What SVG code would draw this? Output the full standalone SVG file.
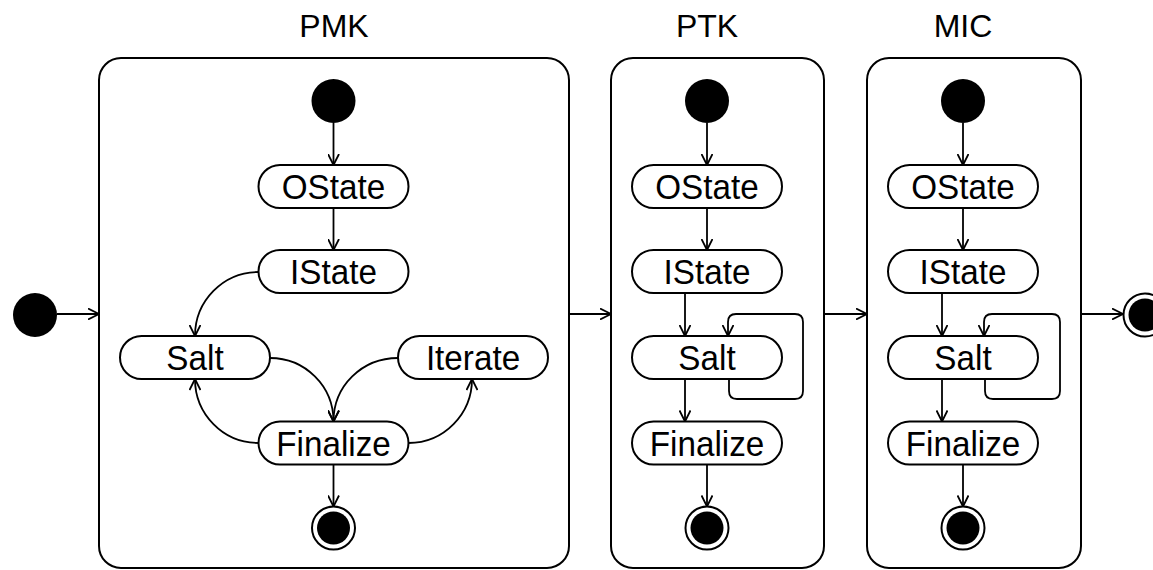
<svg xmlns="http://www.w3.org/2000/svg" width="1153" height="570" viewBox="0 0 1153 570">
  <defs>
    <style>
      .box { fill: #fff; stroke: #000; stroke-width: 2; }
      .pill { fill: #fff; stroke: #000; stroke-width: 2; }
      .lbl { font-family: "Liberation Sans", Arial, sans-serif; font-size: 35px; fill: #000; text-anchor: middle; }
      .title { font-family: "Liberation Sans", Arial, sans-serif; font-size: 32px; fill: #000; text-anchor: middle; }
      .edge { fill: none; stroke: #000; stroke-width: 1.8; marker-end: url(#arrow); }
      .init { fill: #000; }
      .fin-ring { fill: #fff; stroke: #000; stroke-width: 2; }
    </style>
    <marker id="arrow" viewBox="0 0 12 12" refX="11.5" refY="6" markerWidth="12" markerHeight="12" markerUnits="userSpaceOnUse" orient="auto">
      <path d="M0.5,0.5 L11.5,6 L0.5,11.5" fill="none" stroke="#000" stroke-width="1.8"/>
    </marker>
  </defs>

  <rect width="1153" height="570" fill="#fff"/>

  <!-- composite states -->
  <g id="pmk">
    <rect class="box" x="99" y="58" width="470" height="510" rx="22"/>
    <text class="title" x="334" y="37">PMK</text>
  </g>
  <g id="ptk">
    <rect class="box" x="611" y="58" width="213" height="510" rx="22"/>
    <text class="title" x="707" y="37">PTK</text>
  </g>
  <g id="mic">
    <rect class="box" x="867" y="58" width="214" height="510" rx="22"/>
    <text class="title" x="963" y="37">MIC</text>
  </g>

  <!-- outer start / end -->
  <g id="start"><circle class="init" cx="35" cy="315" r="22"/></g>
  <g id="end">
    <circle class="fin-ring" cx="1145" cy="315" r="21.5"/>
    <circle class="init" cx="1145" cy="315" r="16.5"/>
  </g>

  <!-- PMK contents (labels slightly condensed) -->
  <g id="pmk-init"><circle class="init" cx="333.5" cy="101" r="22"/></g>
  <g id="pmk-ostate">
    <rect class="pill" x="258.5" y="165" width="150" height="43" rx="21.5"/>
    <text class="lbl" transform="translate(333.5 199) scale(0.95 1)">OState</text>
  </g>
  <g id="pmk-istate">
    <rect class="pill" x="258.5" y="250" width="150" height="43" rx="21.5"/>
    <text class="lbl" transform="translate(333.5 284) scale(0.95 1)">IState</text>
  </g>
  <g id="pmk-salt">
    <rect class="pill" x="120" y="336" width="150" height="43" rx="21.5"/>
    <text class="lbl" transform="translate(195 370) scale(0.95 1)">Salt</text>
  </g>
  <g id="pmk-iterate">
    <rect class="pill" x="398" y="336" width="150" height="43" rx="21.5"/>
    <text class="lbl" transform="translate(473 370) scale(0.95 1)">Iterate</text>
  </g>
  <g id="pmk-finalize">
    <rect class="pill" x="258.5" y="421.5" width="150" height="43" rx="21.5"/>
    <text class="lbl" transform="translate(333.5 455.5) scale(0.95 1)">Finalize</text>
  </g>
  <g id="pmk-final">
    <circle class="fin-ring" cx="333.5" cy="528" r="21.5"/>
    <circle class="init" cx="333.5" cy="528" r="16.5"/>
  </g>

  <!-- PTK contents -->
  <g id="ptk-init"><circle class="init" cx="707" cy="101" r="22"/></g>
  <g id="ptk-ostate">
    <rect class="pill" x="632" y="165" width="150" height="43" rx="21.5"/>
    <text class="lbl" transform="translate(707 199) scale(0.95 1)">OState</text>
  </g>
  <g id="ptk-istate">
    <rect class="pill" x="632" y="250" width="150" height="43" rx="21.5"/>
    <text class="lbl" transform="translate(707 284) scale(0.95 1)">IState</text>
  </g>
  <g id="ptk-salt">
    <rect class="pill" x="632" y="336" width="150" height="43" rx="21.5"/>
    <text class="lbl" transform="translate(707 370) scale(0.95 1)">Salt</text>
  </g>
  <g id="ptk-finalize">
    <rect class="pill" x="632" y="421.5" width="150" height="43" rx="21.5"/>
    <text class="lbl" transform="translate(707 455.5) scale(0.95 1)">Finalize</text>
  </g>
  <g id="ptk-final">
    <circle class="fin-ring" cx="707" cy="528" r="21.5"/>
    <circle class="init" cx="707" cy="528" r="16.5"/>
  </g>

  <!-- MIC contents -->
  <g id="mic-init"><circle class="init" cx="963" cy="101" r="22"/></g>
  <g id="mic-ostate">
    <rect class="pill" x="888" y="165" width="150" height="43" rx="21.5"/>
    <text class="lbl" transform="translate(963 199) scale(0.95 1)">OState</text>
  </g>
  <g id="mic-istate">
    <rect class="pill" x="888" y="250" width="150" height="43" rx="21.5"/>
    <text class="lbl" transform="translate(963 284) scale(0.95 1)">IState</text>
  </g>
  <g id="mic-salt">
    <rect class="pill" x="888" y="336" width="150" height="43" rx="21.5"/>
    <text class="lbl" transform="translate(963 370) scale(0.95 1)">Salt</text>
  </g>
  <g id="mic-finalize">
    <rect class="pill" x="888" y="421.5" width="150" height="43" rx="21.5"/>
    <text class="lbl" transform="translate(963 455.5) scale(0.95 1)">Finalize</text>
  </g>
  <g id="mic-final">
    <circle class="fin-ring" cx="963" cy="528" r="21.5"/>
    <circle class="init" cx="963" cy="528" r="16.5"/>
  </g>

  <!-- transitions -->
  <g id="connectors">
    <!-- top level chain -->
    <path class="edge" d="M57,314 H99"/>
    <path class="edge" d="M569,314 H611"/>
    <path class="edge" d="M824,314 H867"/>
    <path class="edge" d="M1081,314 H1123"/>

    <!-- PMK -->
    <path class="edge" d="M333.5,123 V165"/>
    <path class="edge" d="M333.5,208 V250"/>
    <path class="edge" d="M258.5,272 C223,272 195,301 195,336"/>
    <path class="edge" d="M270,358 C305,358 333.5,386 333.5,421.5"/>
    <path class="edge" d="M398,358 C362,358 333.5,386 333.5,421.5"/>
    <path class="edge" d="M258.5,443 C223,443 195,414 195,379"/>
    <path class="edge" d="M408.5,443 C444,443 472,414 472,379"/>
    <path class="edge" d="M333.5,464.5 V506.5"/>

    <!-- PTK -->
    <path class="edge" d="M707,123 V165"/>
    <path class="edge" d="M707,208 V250"/>
    <path class="edge" d="M685,293 V336"/>
    <path class="edge" d="M729,379 V391 Q729,399 737,399 H795 Q803,399 803,391 V322 Q803,314 795,314 H736 Q728,314 728,322 V336"/>
    <path class="edge" d="M685,379 V421.5"/>
    <path class="edge" d="M707,464.5 V506.5"/>

    <!-- MIC -->
    <path class="edge" d="M963,123 V165"/>
    <path class="edge" d="M963,208 V250"/>
    <path class="edge" d="M942,293 V336"/>
    <path class="edge" d="M985,379 V391 Q985,399 993,399 H1052 Q1060,399 1060,391 V322 Q1060,314 1052,314 H992 Q984,314 984,322 V336"/>
    <path class="edge" d="M942,379 V421.5"/>
    <path class="edge" d="M963,464.5 V506.5"/>
  </g>
</svg>
